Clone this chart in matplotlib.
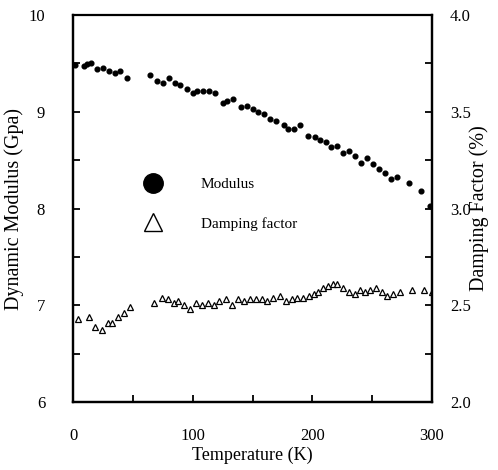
import numpy as np
import matplotlib
matplotlib.use('Agg')
import matplotlib.pyplot as plt
from matplotlib.lines import Line2D
from matplotlib.ticker import MultipleLocator

plt.rcParams['font.family'] = ['Liberation Serif', 'DejaVu Serif']

# modulus (GPa) vs temperature (K)
temp_mod = [2, 9, 12, 15, 20, 25, 30, 35, 39, 45,
            64, 70, 75, 80, 85, 89, 95, 100, 104, 109,
            114, 119, 125, 129, 134, 140, 145, 150, 155, 160,
            165, 170, 176, 180, 185, 190, 196, 202, 206, 211,
            216, 221, 226, 231, 236, 241, 246, 251, 256, 261,
            266, 271, 281, 291, 298]
modulus = [9.48, 9.47, 9.49, 9.50, 9.44, 9.45, 9.42, 9.40, 9.42, 9.35,
           9.38, 9.32, 9.30, 9.35, 9.30, 9.28, 9.24, 9.19, 9.21, 9.21,
           9.21, 9.19, 9.09, 9.11, 9.13, 9.05, 9.06, 9.03, 9.00, 8.98,
           8.93, 8.90, 8.86, 8.82, 8.82, 8.86, 8.75, 8.74, 8.71, 8.69,
           8.64, 8.65, 8.57, 8.59, 8.54, 8.47, 8.52, 8.46, 8.41, 8.37,
           8.30, 8.33, 8.26, 8.18, 8.03]

# damping factor (%) vs temperature (K)
temp_damp = [4, 13, 18, 24, 29, 33, 38, 43, 48,
             68, 74, 79, 84, 88, 93, 98, 103, 108, 113,
             118, 122, 128, 133, 138, 143, 148, 153, 158, 162,
             167, 173, 178, 183, 187, 192, 197, 201, 205, 209,
             213, 217, 221, 226, 231, 236, 240, 244, 248, 253,
             258, 262, 267, 273, 283, 293, 300]
damping = [2.43, 2.44, 2.39, 2.37, 2.41, 2.41, 2.44, 2.46, 2.49,
           2.51, 2.54, 2.53, 2.51, 2.52, 2.50, 2.48, 2.51, 2.50, 2.51,
           2.50, 2.52, 2.53, 2.50, 2.53, 2.52, 2.53, 2.53, 2.53, 2.52,
           2.54, 2.55, 2.52, 2.53, 2.54, 2.54, 2.55, 2.56, 2.57, 2.59,
           2.60, 2.61, 2.61, 2.59, 2.57, 2.56, 2.58, 2.57, 2.58, 2.59,
           2.57, 2.55, 2.56, 2.57, 2.58, 2.58, 2.57]

right_ticks = [2.0, 2.5, 3.0, 3.5, 4.0]
right_labels = ['2.0', '2.5', '3.0', '3.5', '4.0']

fig = plt.figure(figsize=(4.98, 4.70), dpi=100)
ax = fig.add_axes([0.1466, 0.1447, 0.7209, 0.8233])
ax2 = ax.twinx()

ax.plot(temp_mod, modulus, 'o', color='black', markersize=3.4)
ax2.plot(temp_damp, damping, '^', mfc='white', mec='black', mew=0.9, markersize=4.3)

ax.set_xlim(0, 300)
ax.set_ylim(6, 10)
ax2.set_ylim(2.0, 4.0)

ax.xaxis.set_major_locator(MultipleLocator(100))
ax.xaxis.set_minor_locator(MultipleLocator(50))
ax.yaxis.set_major_locator(MultipleLocator(1))
ax.yaxis.set_minor_locator(MultipleLocator(0.5))
ax2.set_yticks(right_ticks)
ax2.set_yticklabels(right_labels)
ax2.yaxis.set_minor_locator(MultipleLocator(0.25))

for a in (ax, ax2):
    for s in a.spines.values():
        s.set_linewidth(1.6)
    a.tick_params(which='both', direction='in', width=1.3, labelsize=12, length=5)

ax.tick_params(axis='x', which='both', pad=19)
ax.tick_params(axis='y', which='both', pad=20)
ax2.tick_params(axis='y', which='both', pad=13)
ax.spines['top'].set_linewidth(1.3)

ax.set_xlabel('Temperature (K)', fontsize=13, labelpad=2)
ax.set_ylabel('Dynamic Modulus (Gpa)', fontsize=14.5, labelpad=3)
ax2.set_ylabel('Damping Factor (%)', fontsize=14.5, labelpad=-1)

handles = [Line2D([], [], ls='none', marker='o', color='black', markersize=14),
           Line2D([], [], ls='none', marker='^', mfc='white', mec='black', mew=1.0, markersize=13)]
ax.legend(handles, ['Modulus', 'Damping factor'], loc='upper left',
          bbox_to_anchor=(0.181, 0.581), frameon=False, fontsize=11,
          borderpad=0, borderaxespad=0, handlelength=2, handletextpad=2.1,
          labelspacing=1.7, numpoints=1)

fig.savefig('out.png', dpi=100)
